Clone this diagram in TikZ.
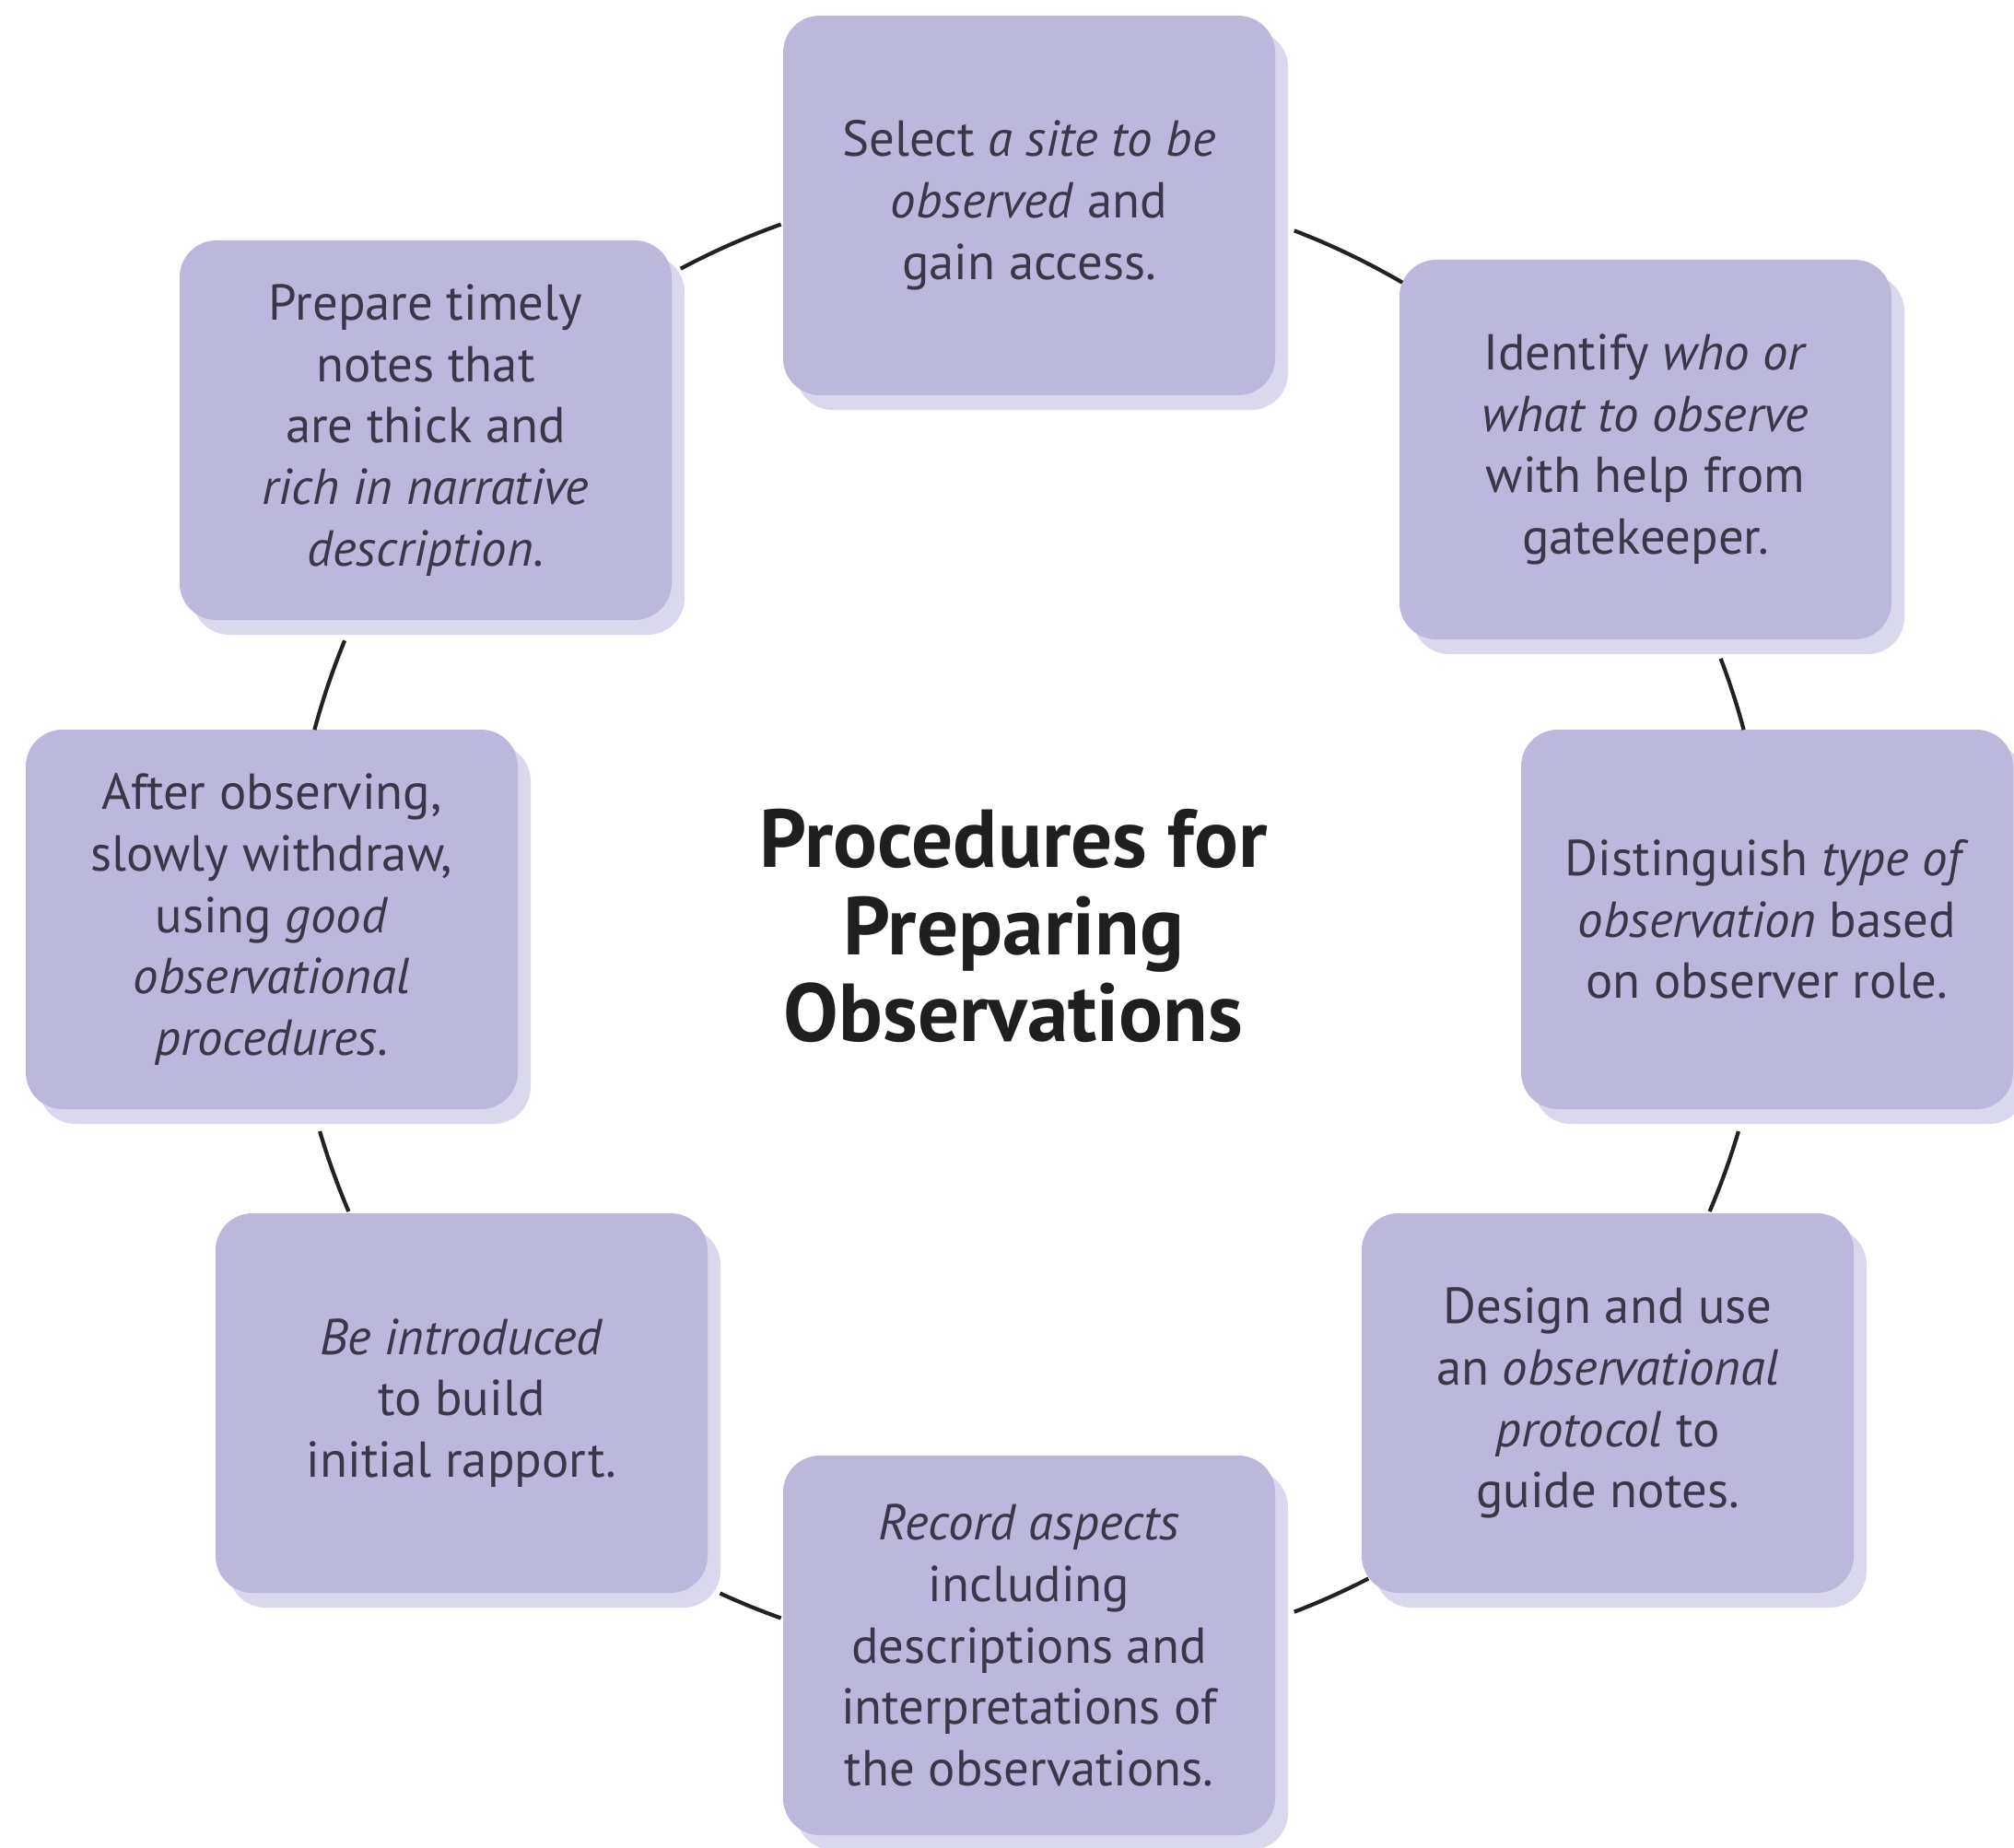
\documentclass[tikz,border=0pt]{standalone}
\usepackage{fontspec}
\setmainfont{PT Sans}
\usetikzlibrary{shadows,calc}
\definecolor{boxfill}{HTML}{BCB8DC}
\definecolor{boxshadow}{HTML}{DAD8EC}
\definecolor{txt}{HTML}{3A3848}
\definecolor{linkcol}{HTML}{222222}
\begin{document}
\begin{tikzpicture}
\tikzset{
  stepbox/.style={rectangle, rounded corners=0.4cm, fill=boxfill,
    minimum width=5.34cm, minimum height=4.12cm, align=center,
    text=txt, font=\fontsize{15.6}{19}\selectfont,
    drop shadow={shadow xshift=0.14cm, shadow yshift=-0.16cm, fill=boxshadow, opacity=1}},
  link/.style={draw=linkcol, line width=1.2pt},
  titlestyle/.style={align=center, text=black!88, font=\fontsize{25.4}{26.9}\selectfont\bfseries}
}
\useasboundingbox (0,0) rectangle (21.86,20.05);
\fill[white] (0,0) rectangle (21.86,20.05);

\node[stepbox] (b1) at (11.17,17.82) {Select \textit{a site to be}\\ \textit{observed} and\\ gain access.};
\node[stepbox] (b2) at (17.86,15.17) {Identify \textit{who or}\\ \textit{what to observe}\\ with help from\\ gatekeeper.};
\node[stepbox] (b3) at (19.18,10.07) {Distinguish \textit{type of}\\ \textit{observation} based\\ on observer role.};
\node[stepbox] (b4) at (17.45,4.82) {Design and use\\ an \textit{observational}\\ \textit{protocol} to\\ guide notes.};
\node[stepbox] (b5) at (11.17,2.19) {\textit{Record aspects}\\ including\\ descriptions and\\ interpretations of\\ the observations.};
\node[stepbox] (b6) at (5.01,4.82) {\textit{Be introduced}\\ to build\\ initial rapport.};
\node[stepbox] (b7) at (2.95,10.07) {After observing,\\ slowly withdraw,\\ using \textit{good}\\ \textit{observational}\\ \textit{procedures}.};
\node[stepbox] (b8) at (4.62,15.38) {Prepare timely\\ notes that\\ are thick and\\ \textit{rich in narrative}\\ \textit{description}.};

\node[titlestyle] (title) at (11.0,10.0) {Procedures for\\ Preparing\\ Observations};

\coordinate (c) at (11.17,10.05);
\def\rr{8.03}
\coordinate (p12) at ($(c)+(69.0:\rr)$);
\coordinate (p23) at ($(c)+(20.8:\rr)$);
\coordinate (p34) at ($(c)+(-16.5:\rr)$);
\coordinate (p45) at ($(c)+(-62.7:\rr)$);
\coordinate (p56) at ($(c)+(-109.6:\rr)$);
\coordinate (p67) at ($(c)+(-156.9:\rr)$);
\coordinate (p78) at ($(c)+(165.0:\rr)$);
\coordinate (p81) at ($(c)+(109.6:\rr)$);

\draw[link] (p12) arc[start angle=69.0, end angle=59.7, radius=\rr];
\draw[link] (p23) arc[start angle=20.8, end angle=15.0, radius=\rr];
\draw[link] (p34) arc[start angle=-16.5, end angle=-23.1, radius=\rr];
\draw[link] (p45) arc[start angle=-62.7, end angle=-69.0, radius=\rr];
\draw[link] (p56) arc[start angle=-109.6, end angle=-114.7, radius=\rr];
\draw[link] (p67) arc[start angle=-156.9, end angle=-163.5, radius=\rr];
\draw[link] (p78) arc[start angle=165.0, end angle=157.7, radius=\rr];
\draw[link] (p81) arc[start angle=109.6, end angle=118.1, radius=\rr];
\end{tikzpicture}
\end{document}
